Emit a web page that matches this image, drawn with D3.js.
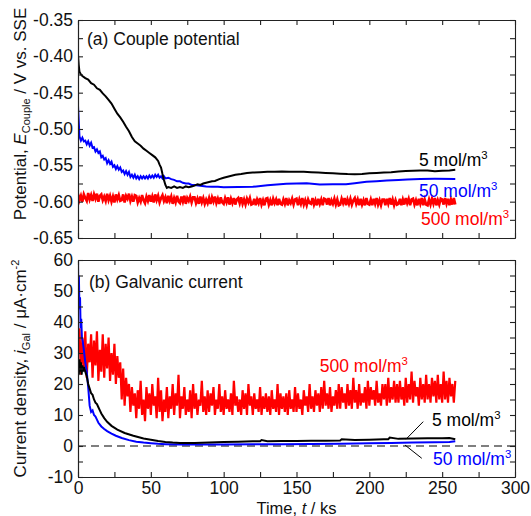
<!DOCTYPE html>
<html><head><meta charset="utf-8">
<script src="https://cdn.jsdelivr.net/npm/d3@7"></script>
<style>
html,body{margin:0;padding:0;background:#fff;}
svg{display:block;font-family:"Liberation Sans",Arial,sans-serif;}
</style></head>
<body>
<svg id="chart" width="531" height="516"></svg>
<script>
// ---------------- data ----------------
const timeTicks = [0, 50, 100, 150, 200, 250, 300];
const timeMinor = [25, 75, 125, 175, 225, 275];
const potTicks = [-0.35, -0.40, -0.45, -0.50, -0.55, -0.60, -0.65];
const potMinor = [-0.375, -0.425, -0.475, -0.525, -0.575, -0.625];
const curTicks = [60, 50, 40, 30, 20, 10, 0, -10];
const curMinor = [55, 45, 35, 25, 15, 5, -5];

// (a) couple potential, 5 mol/m3 (black), V
const blackPotT = [0,0.5,1,2,3,5,7,9,11,13,15,17,19,21,23,25,27,29,31,33,35,37,39,41,43,45,47,49,51,53,55,56,57,58,59,60,61,62,64,66,68,70,72,74,76,78,80,82,84,86,88,90,92,94,97,100,104,108,112,116,120,125,130,135,140,145,150,155,160,165,170,175,180,185,190,195,200,205,210,215,220,225,230,235,240,245,250,255,259];
const blackPotV = [-0.398,-0.412,-0.421,-0.425,-0.427,-0.430,-0.432,-0.437,-0.439,-0.444,-0.446,-0.451,-0.455,-0.460,-0.465,-0.472,-0.479,-0.484,-0.490,-0.497,-0.503,-0.511,-0.517,-0.520,-0.523,-0.527,-0.530,-0.533,-0.536,-0.539,-0.544,-0.549,-0.553,-0.562,-0.570,-0.577,-0.581,-0.580,-0.581,-0.579,-0.581,-0.580,-0.581,-0.579,-0.580,-0.579,-0.578,-0.576,-0.577,-0.575,-0.574,-0.573,-0.572,-0.5715,-0.569,-0.567,-0.565,-0.563,-0.562,-0.5605,-0.560,-0.5595,-0.559,-0.5588,-0.5585,-0.5587,-0.559,-0.5588,-0.5595,-0.560,-0.5605,-0.561,-0.5615,-0.562,-0.5622,-0.562,-0.561,-0.5605,-0.560,-0.5595,-0.5585,-0.5578,-0.5575,-0.5572,-0.557,-0.558,-0.5575,-0.557,-0.5562];

// (a) couple potential, 50 mol/m3 (blue), V
const bluePotT = [0,1,2,3,4,5,6,7,8,9,10,11,12,13,14,15,16,17,18,19,20,21,22,23,24,25,26,27,28,29,30,31,32,33,34,35,36,37,38,39,40,41,42,43,44,45,46,47,48,49,50,51,52,53,54,55,56,57,58,59,60,62,64,66,68,70,72,74,76,78,80,84,88,92,96,100,110,120,130,143,150,157,166,175,184,190,198,205,212,220,226,235,245,259];
const bluePotV = [-0.468,-0.510,-0.516,-0.512,-0.517,-0.516,-0.521,-0.517,-0.523,-0.519,-0.526,-0.525,-0.531,-0.528,-0.533,-0.531,-0.539,-0.537,-0.542,-0.540,-0.547,-0.543,-0.548,-0.545,-0.552,-0.550,-0.555,-0.551,-0.556,-0.553,-0.559,-0.557,-0.562,-0.558,-0.563,-0.559,-0.566,-0.563,-0.567,-0.563,-0.568,-0.565,-0.569,-0.565,-0.568,-0.565,-0.568,-0.565,-0.568,-0.564,-0.567,-0.564,-0.567,-0.563,-0.566,-0.563,-0.567,-0.565,-0.568,-0.565,-0.568,-0.567,-0.569,-0.570,-0.572,-0.572,-0.574,-0.575,-0.575,-0.577,-0.577,-0.578,-0.579,-0.5795,-0.5795,-0.580,-0.5798,-0.5795,-0.5775,-0.5755,-0.575,-0.5745,-0.5765,-0.5762,-0.576,-0.5745,-0.5725,-0.5718,-0.571,-0.5702,-0.5695,-0.5687,-0.5686,-0.5688];

// (a) couple potential, 500 mol/m3 (red), sampled every 1 ks, in mV
const redPotT = d3.range(0, 260, 1);
const redPotMV = [
 -589,-598,-592,-600,-590,-595,-599,-588,-597,-591,
 -599,-590,-596,-589,-600,-592,-590,-598,-593,-599,
 -589,-598,-592,-600,-593,-601,-590,-597,-591,-599,
 -598,-590,-601,-592,-596,-589,-599,-593,-600,-591,
 -592,-601,-595,-600,-591,-598,-602,-593,-599,-591,
 -600,-593,-601,-590,-598,-592,-601,-595,-591,-599,
 -594,-602,-592,-599,-593,-603,-595,-601,-592,-600,
 -602,-593,-600,-592,-603,-595,-599,-593,-601,-594,
 -594,-602,-596,-603,-593,-601,-595,-603,-597,-602,
 -595,-603,-594,-600,-593,-602,-596,-603,-594,-601,
 -603,-595,-601,-594,-604,-596,-602,-595,-604,-597,
 -595,-602,-594,-603,-597,-604,-596,-601,-595,-604,
 -603,-596,-605,-597,-602,-595,-604,-598,-605,-596,
 -595,-604,-598,-605,-596,-602,-597,-605,-596,-603,
 -604,-597,-603,-595,-605,-598,-602,-596,-604,-597,
 -596,-605,-597,-603,-595,-604,-598,-605,-597,-602,
 -603,-595,-604,-598,-605,-596,-603,-597,-605,-596,
 -597,-604,-595,-605,-598,-603,-596,-604,-597,-605,
 -604,-596,-602,-595,-605,-597,-603,-596,-604,-598,
 -595,-603,-597,-605,-596,-604,-598,-605,-595,-603,
 -604,-597,-605,-596,-603,-595,-604,-598,-605,-597,
 -597,-605,-596,-603,-595,-604,-597,-605,-598,-604,
 -603,-596,-605,-597,-604,-595,-602,-596,-605,-597,
 -596,-604,-598,-605,-596,-603,-595,-605,-597,-604,
 -605,-597,-604,-596,-603,-595,-605,-598,-604,-596,
 -597,-604,-595,-603,-596,-605,-597,-604,-595,-604];

// (b) galvanic current, 5 mol/m3 (black)
const blackCurT = [0,0.3,0.6,1,1.5,2,2.5,3,3.5,4,5,6,7,8,9,10,11,12,13,14,15,16,18,20,23,27,32,38,45,50,55,60,65,70,80,90,100,110,120,125,126,130,140,150,160,170,180,181,190,200,210,213,214,220,230,240,250,255,259];
const blackCurV = [22,27,23,28,24,27,23,26,24,25.5,24,22.5,20,18.5,17,16.5,15,14,13.5,12.5,11.5,10.5,9,7.8,6.5,5.3,4.2,3.3,2.4,2.0,1.6,1.3,1.1,1.0,1.0,1.1,1.3,1.4,1.5,1.5,1.9,1.5,1.6,1.6,1.7,1.7,1.8,2.2,1.9,2.0,2.2,2.2,2.7,2.3,2.4,2.5,2.5,2.6,2.2];

// (b) galvanic current, 50 mol/m3 (blue)
const blueCurT = [0,0.3,0.6,1,1.4,1.8,2.2,2.7,3.2,4,5,6,7,8,9,10,11,12,13,14,16,18,20,23,26,30,35,40,45,50,55,60,70,80,100,120,140,160,180,200,215,230,245,255,259];
const blueCurV = [60,46,55,44,48,38,41,35,34,31,27,24,19,13,11,11.5,10,9.5,8.5,7.5,6.3,5.5,4.8,4,3.3,2.6,1.9,1.4,1.1,0.9,0.7,0.6,0.5,0.5,0.5,0.55,0.6,0.65,0.7,0.85,1.0,1.1,1.2,1.3,1.5];

// (b) galvanic current, 500 mol/m3 (red), sampled every 1 ks
const redCurT = d3.range(0, 260, 1);
const redCurV = [
 30,38,23,35,25,37,22,33,27,36,
 22,34,26,37,21,31,24,36,22,33,
 25,35,21,30,23,33,20,29,22,27,
 15,25,13,22,16,20,11,19,13,17,
 9,18,12,21,10,15,8,19,12,17,
 10,20,13,16,9,22,11,18,8,15,
 11,19,9,16,12,20,10,17,13,23,
 9,16,12,19,10,15,11,18,9,20,
 12,17,10,15,13,21,11,16,10,18,
 11,17,13,19,10,15,12,20,11,16,
 10,18,12,15,11,17,10,21,13,16,
 11,15,10,18,12,17,10,20,13,16,
 10,17,12,15,11,19,10,16,12,17,
 11,16,10,18,12,15,11,20,10,17,
 12,16,11,17,10,18,12,15,11,19,
 11,17,12,15,10,18,13,16,11,20,
 12,16,11,18,13,17,11,19,12,21,
 13,17,12,19,11,16,13,18,12,20,
 12,19,14,17,12,20,13,18,12,22,
 14,18,12,20,13,17,14,19,12,21,
 13,19,15,18,13,21,14,17,13,20,
 15,20,13,22,14,19,15,21,14,20,
 14,21,15,19,13,22,14,20,15,24,
 14,21,16,19,13,22,15,20,14,23,
 15,20,14,22,16,21,14,23,15,20,
 14,24,15,21,14,22,16,20,14,21];

// ---------------- layout ----------------
const svg = d3.select("#chart");
const X0 = 78, X1 = 515;
const topP = {y0: 20, y1: 238};
const botP = {y0: 260, y1: 477};
const FONT = 17.5;

const x = d3.scaleLinear().domain([0, 300]).range([X0, X1]);
const yPot = d3.scaleLinear().domain([-0.65, -0.35]).range([topP.y1, topP.y0]);
const yCur = d3.scaleLinear().domain([-10, 60]).range([botP.y1, botP.y0]);

const zip = (T, V) => T.map((t, i) => [t, V[i]]);

const defs = svg.append("defs");
defs.append("clipPath").attr("id", "clipTop").append("rect")
  .attr("x", X0).attr("y", topP.y0).attr("width", X1 - X0).attr("height", topP.y1 - topP.y0);
defs.append("clipPath").attr("id", "clipBot").append("rect")
  .attr("x", X0).attr("y", botP.y0).attr("width", X1 - X0).attr("height", botP.y1 - botP.y0);

function frame(y, yTicks, yMinor, yFmt, showX) {
  const [ya, yb] = y.range();
  const g = svg.append("g").attr("class", "axes");
  const TS = -5;
  g.append("g").attr("transform", `translate(${X0},0)`)
    .call(d3.axisLeft(y).tickValues(yTicks).tickSize(TS).tickSizeOuter(0).tickPadding(5).tickFormat(yFmt));
  g.append("g").attr("transform", `translate(${X0},0)`)
    .call(d3.axisLeft(y).tickValues(yMinor).tickSize(TS).tickSizeOuter(0).tickFormat(""));
  g.append("g").attr("transform", `translate(${X1},0)`)
    .call(d3.axisRight(y).tickValues(yTicks.concat(yMinor)).tickSize(TS).tickSizeOuter(0).tickFormat(""));
  g.append("g").attr("transform", `translate(0,${yb})`)
    .call(d3.axisTop(x).tickValues(timeTicks.concat(timeMinor)).tickSize(TS).tickSizeOuter(0).tickFormat(""));
  g.append("g").attr("transform", `translate(0,${ya})`)
    .call(d3.axisBottom(x).tickValues(timeTicks).tickSize(TS).tickSizeOuter(0).tickPadding(5)
      .tickFormat(showX ? (d => String(d)) : ""));
  g.append("g").attr("transform", `translate(0,${ya})`)
    .call(d3.axisBottom(x).tickValues(timeMinor).tickSize(TS).tickSizeOuter(0).tickFormat(""));
  g.selectAll("path.domain").attr("stroke", "#222").attr("stroke-width", 1.1);
  g.selectAll(".tick line").attr("stroke", "#222").attr("stroke-width", 1.1);
  g.selectAll(".tick text").attr("font-size", FONT).attr("fill", "#111")
    .attr("font-family", '"Liberation Sans", Arial, sans-serif');
  return g;
}

// ---------------- panel (a) ----------------
const gTop = svg.append("g").attr("clip-path", "url(#clipTop)");
const linePot = d3.line().x(d => x(d[0])).y(d => yPot(d[1]));
gTop.append("path").datum(zip(redPotT, redPotMV.map(v => v / 1000))).attr("d", linePot)
  .attr("fill", "none").attr("stroke", "#ff0000").attr("stroke-width", 2.6);
gTop.append("path").datum(zip(bluePotT, bluePotV)).attr("d", linePot)
  .attr("fill", "none").attr("stroke", "#0000ff").attr("stroke-width", 2);
gTop.append("path").datum(zip(blackPotT, blackPotV)).attr("d", linePot)
  .attr("fill", "none").attr("stroke", "#000").attr("stroke-width", 2);

frame(yPot, potTicks, potMinor, d => d.toFixed(2), false);

// ---------------- panel (b) ----------------
const gBot = svg.append("g").attr("clip-path", "url(#clipBot)");
const lineCur = d3.line().x(d => x(d[0])).y(d => yCur(d[1]));
gBot.append("line").attr("x1", x(0)).attr("x2", x(300)).attr("y1", yCur(0)).attr("y2", yCur(0))
  .attr("stroke", "#000").attr("stroke-width", 1.2).attr("stroke-dasharray", "8,5");
gBot.append("path").datum(zip(redCurT, redCurV)).attr("d", lineCur)
  .attr("fill", "none").attr("stroke", "#ff0000").attr("stroke-width", 2.2);
gBot.append("path").datum(zip(blueCurT, blueCurV)).attr("d", lineCur)
  .attr("fill", "none").attr("stroke", "#0000ff").attr("stroke-width", 2);
gBot.append("path").datum(zip(blackCurT, blackCurV)).attr("d", lineCur)
  .attr("fill", "none").attr("stroke", "#000").attr("stroke-width", 2);

frame(yCur, curTicks, curMinor, d => String(d), true);

// ---------------- text ----------------
function molLabel(tx, ty, num, color) {
  const t = svg.append("text").attr("x", tx).attr("y", ty).attr("font-size", FONT).attr("fill", color);
  t.append("tspan").text(num + " mol/m");
  t.append("tspan").attr("font-size", FONT * 0.65).attr("dy", -7).text("3");
  return t;
}
svg.append("text").attr("x", 87).attr("y", 45).attr("font-size", FONT).attr("fill", "#111").text("(a) Couple potential");
molLabel(x(234.1), 165.5, "5", "#000");
molLabel(x(234.1), 196.5, "50", "#0000ff");
molLabel(x(235.5), 224.5, "500", "#ff0000");

svg.append("text").attr("x", 89).attr("y", 288).attr("font-size", FONT).attr("fill", "#111").text("(b) Galvanic current");
molLabel(x(166), 371.5, "500", "#ff0000");
molLabel(x(243), 426, "5", "#000");
molLabel(x(243.7), 465, "50", "#0000ff");

svg.append("line").attr("x1", x(225.2)).attr("y1", yCur(2.2)).attr("x2", x(237)).attr("y2", yCur(7.85))
  .attr("stroke", "#000").attr("stroke-width", 1);
svg.append("line").attr("x1", x(224.5)).attr("y1", yCur(0.3)).attr("x2", x(236)).attr("y2", yCur(-3.97))
  .attr("stroke", "#000").attr("stroke-width", 1);

const yt1 = svg.append("text").attr("transform", `translate(26,${(topP.y0 + topP.y1) / 2 - 15}) rotate(-90)`)
  .attr("text-anchor", "middle").attr("font-size", 17).attr("fill", "#111");
yt1.append("tspan").text("Potential, ");
yt1.append("tspan").attr("font-style", "italic").text("E");
yt1.append("tspan").attr("font-size", 11).attr("dy", 4).text("Couple");
yt1.append("tspan").attr("dy", -4).text(" / V vs. SSE");

const yt2 = svg.append("text").attr("transform", `translate(26,${(botP.y0 + botP.y1) / 2}) rotate(-90)`)
  .attr("text-anchor", "middle").attr("font-size", 17).attr("fill", "#111");
yt2.append("tspan").text("Current density, ");
yt2.append("tspan").attr("font-style", "italic").text("i");
yt2.append("tspan").attr("font-size", 11).attr("dy", 4).text("Gal");
yt2.append("tspan").attr("dy", -4).text(" / \u03bcA\u00b7cm");
yt2.append("tspan").attr("font-size", 11).attr("dy", -7).text("-2");

const xt = svg.append("text").attr("x", (X0 + X1) / 2).attr("y", 514)
  .attr("text-anchor", "middle").attr("font-size", 16.5).attr("fill", "#111");
xt.append("tspan").text("Time, ");
xt.append("tspan").attr("font-style", "italic").text("t");
xt.append("tspan").text(" / ks");
</script>
</body></html>
